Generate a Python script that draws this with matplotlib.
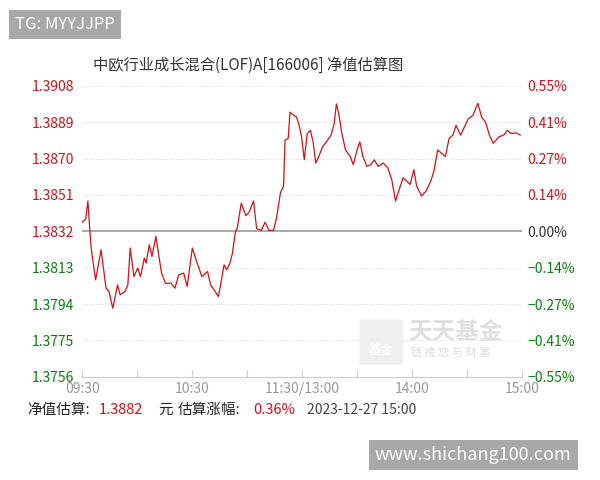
import matplotlib
matplotlib.use('Agg')
import matplotlib.pyplot as plt
from matplotlib.patches import FancyBboxPatch

plt.rcParams['font.family'] = ['Noto Sans CJK SC', 'DejaVu Sans']

base = 1.3832
minutes = [0.0, 1.9, 3.1, 4.2, 5.0, 7.3, 10.3, 13.0, 14.6, 16.7, 19.3, 20.7, 23.4, 24.9, 26.2, 28.2,
           30.3, 31.8, 33.9, 34.9, 36.6, 38.1, 40.2, 41.6, 43.3, 45.4, 48.5, 50.6, 52.7, 55.4, 57.3,
           60.1, 62.1, 65.3, 68.4, 70.1, 72.6, 74.3, 75.7, 77.4, 78.9, 80.6, 82.0, 83.5, 84.7, 86.8,
           89.3, 91.0, 93.5, 95.2, 97.7, 99.8, 101.9, 104.4, 106.1, 108.2, 109.9, 110.7, 112.4, 113.4,
           115.5, 117.0, 118.6, 119.7, 121.2, 122.8, 124.5, 126.0, 127.4, 129.1, 131.2, 133.3, 135.8,
           137.5, 138.7, 140.0, 141.7, 143.7, 146.3, 147.9, 150.0, 151.5, 153.2, 155.3, 157.4, 159.4,
           161.5, 164.3, 166.8, 168.9, 171.0, 173.0, 175.1, 177.2, 178.9, 181.0, 182.5, 185.2, 187.7,
           190.2, 191.9, 194.0, 196.1, 198.2, 200.2, 202.3, 204.0, 206.5, 208.6, 210.7, 213.2, 215.9,
           218.0, 220.1, 222.2, 224.3, 227.4, 230.0, 232.0, 234.1, 236.9, 239.0]
nav = [1.38368, 1.38385, 1.38479, 1.38320, 1.38224, 1.38067, 1.38224, 1.38023, 1.38006, 1.37918,
       1.38040, 1.37988, 1.38006, 1.38040, 1.38233, 1.38084, 1.38128, 1.38084, 1.38180, 1.38154,
       1.38250, 1.38189, 1.38294, 1.38206, 1.38102, 1.38049, 1.38049, 1.38023, 1.38093, 1.38102,
       1.38032, 1.38233, 1.38172, 1.38084, 1.38110, 1.38040, 1.38006, 1.37979, 1.38049, 1.38145,
       1.38119, 1.38154, 1.38206, 1.38311, 1.38342, 1.38467, 1.38402, 1.38419, 1.38479, 1.38334,
       1.38325, 1.38368, 1.38325, 1.38325, 1.38394, 1.38522, 1.38557, 1.38797, 1.38805, 1.38943,
       1.38926, 1.38917, 1.38866, 1.38814, 1.38694, 1.38831, 1.38848, 1.38788, 1.38677, 1.38711,
       1.38763, 1.38788, 1.38823, 1.38883, 1.38986, 1.38934, 1.38831, 1.38745, 1.38711, 1.38668,
       1.38745, 1.38788, 1.38711, 1.38660, 1.38668, 1.38694, 1.38660, 1.38677, 1.38651, 1.38591,
       1.38479, 1.38539, 1.38600, 1.38582, 1.38565, 1.38642, 1.38557, 1.38505, 1.38531, 1.38582,
       1.38634, 1.38745, 1.38728, 1.38711, 1.38805, 1.38823, 1.38874, 1.38823, 1.38866, 1.38908,
       1.38926, 1.38989, 1.38917, 1.38891, 1.38823, 1.38780, 1.38814, 1.38823, 1.38848, 1.38831,
       1.38835, 1.38823]

left_ticks = [1.3908, 1.3889, 1.3870, 1.3851, 1.3832, 1.3813, 1.3794, 1.3775, 1.3756]
right_labels = ['0.55%', '0.41%', '0.27%', '0.14%', '0.00%', '−0.14%', '−0.27%', '−0.41%', '−0.55%']
time_labels = ['09:30', '', '10:30', '', '11:30/13:00', '', '14:00', '', '15:00']

red = '#c8161d'
green = '#107a10'

fig = plt.figure(figsize=(6, 4.8), dpi=100)
ax = fig.add_axes([0.137, 0.215, 0.733, 0.606])
ax.plot(minutes, nav, color=red, lw=0.9)
ax.set_xlim(0, 240)
ax.set_ylim(1.3756, 1.3908)

for v in left_ticks:
    if v == base:
        ax.axhline(v, color='#999999', lw=1.2, zorder=0)
    elif v != 1.3756:
        ax.axhline(v, color='#e2e2e2', lw=0.8, ls=(0, (1, 1)), zorder=0)

for s in ['top', 'left', 'right']:
    ax.spines[s].set_visible(False)
ax.spines['bottom'].set_color('#cccccc')

ax.set_yticks(left_ticks)
ax.set_yticklabels([f'{v:.4f}' for v in left_ticks], fontsize=10)
for lab, v in zip(ax.get_yticklabels(), left_ticks):
    lab.set_color(red if v >= base else green)
ax.tick_params(axis='y', length=0, pad=6)

ax2 = ax.twinx()
ax2.set_ylim(ax.get_ylim())
ax2.set_yticks(left_ticks)
ax2.set_yticklabels(right_labels, fontsize=10)
for lab, v in zip(ax2.get_yticklabels(), left_ticks):
    lab.set_color(red if v > base else (green if v < base else '#333333'))
ax2.tick_params(axis='y', length=0, pad=4)
for s in ['top', 'left', 'right', 'bottom']:
    ax2.spines[s].set_visible(False)

ax.set_xticks(range(0, 241, 30))
ax.set_xticklabels(time_labels, fontsize=10, color='#999999')
ax.tick_params(axis='x', direction='in', length=5, color='#cccccc', pad=4)

fig.text(0.155, 0.855, '中欧行业成长混合(LOF)A[166006] 净值估算图', fontsize=11, color='#333333')

# bottom summary line
fig.text(0.045, 0.138, '净值估算:', fontsize=10.5, color='#222222')
fig.text(0.165, 0.138, '1.3882', fontsize=10.5, color=red)
fig.text(0.263, 0.138, '元', fontsize=10.5, color='#222222')
fig.text(0.296, 0.138, '估算涨幅:', fontsize=10.5, color='#222222')
fig.text(0.422, 0.138, '0.36%', fontsize=10.5, color=red)
fig.text(0.512, 0.138, '2023-12-27 15:00', fontsize=10, color='#444444')

# faint watermark logo
fig.patches.append(FancyBboxPatch((0.603, 0.245), 0.065, 0.085, boxstyle='round,pad=0.004',
                                  transform=fig.transFigure, fc='#efefef', ec='none'))
fig.text(0.636, 0.262, '基金', fontsize=9, color='white', ha='center', weight='bold')
fig.text(0.68, 0.295, '天天基金', fontsize=17, color='#e0e0e0', weight='bold')
fig.text(0.685, 0.258, '链 接 您 与 财 富', fontsize=8, color='#dcdcdc')

# overlay badges
fig.text(0.025, 0.94, 'TG: MYYJJPP', fontsize=12, color='white',
         bbox=dict(boxstyle='square,pad=0.35', fc='#a8a8a8', ec='none'))
fig.text(0.625, 0.042, 'www.shichang100.com', fontsize=13, color='white',
         bbox=dict(boxstyle='square,pad=0.35', fc='#a8a8a8', ec='none'))

fig.savefig('out.png', dpi=100)
